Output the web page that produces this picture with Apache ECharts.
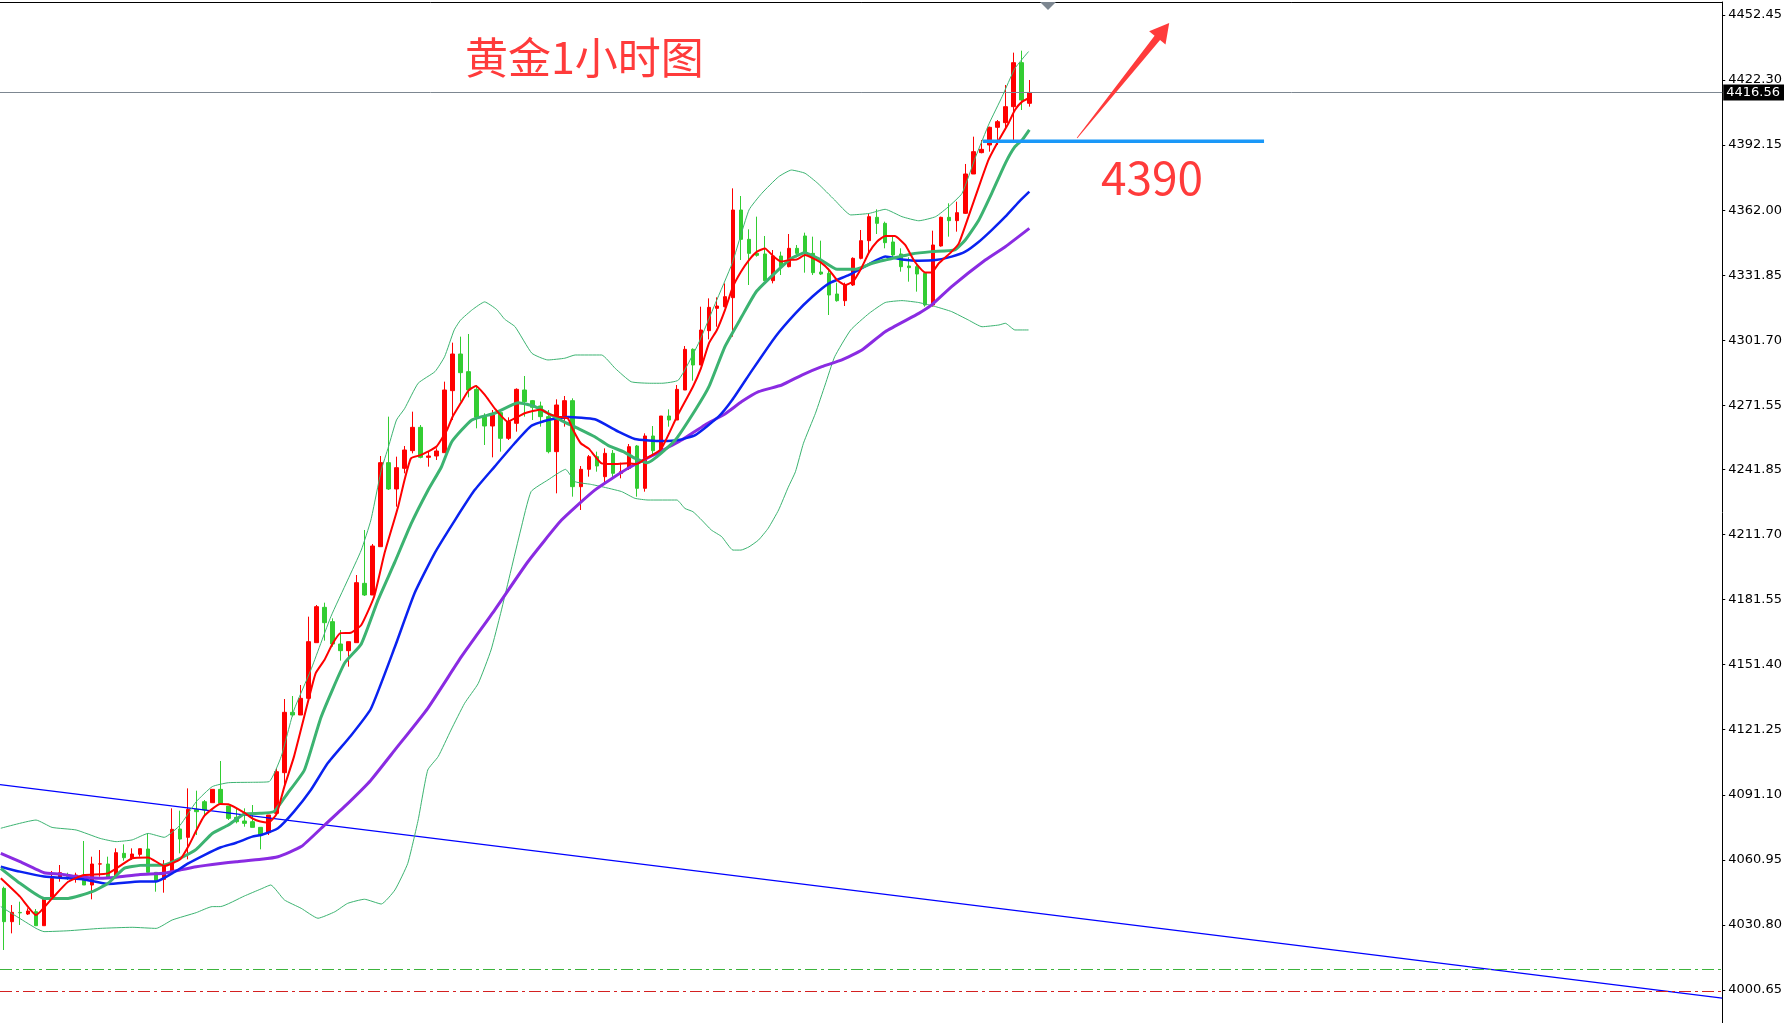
<!DOCTYPE html>
<html><head><meta charset="utf-8">
<script src="https://cdn.jsdelivr.net/npm/echarts@6/dist/echarts.min.js"></script>
<style>html,body{margin:0;padding:0;background:#fff}#c{width:1785px;height:1023px}</style>
</head><body><div id="c"></div>
<script>
// ---------- data ----------
const slotCount = 215; // candle slots visible across the chart (incl. empty right-hand space)
const tickValues = [4000.65,4030.80,4060.95,4091.10,4121.25,4151.40,4181.55,4211.70,4241.85,4271.55,4301.70,4331.85,4362.00,4392.15,4422.30,4452.45];

const opens = [4047.75,4032.31,4036.6,4035.86,4036.94,4030.45,4043.12,4052.85,4053.93,4052.85,
4051.92,4049.30,4059.0,4059.03,4052.85,4063.97,4061.81,4063.51,4065.98,4055.17,
4051.92,4055.48,4075.25,4071.39,4084.36,4087.91,4087.45,4093.63,4085.91,4080.65,
4078.96,4078.65,4076.02,4073.55,4082.51,4101.36,4129.32,4128.08,4135.80,4161.60,
4177.97,4171.33,4160.98,4157.89,4161.60,4189.09,4183.69,4206.08,4245.01,4232.81,
4242.38,4250.57,4261.38,4247.48,4248.10,4249.64,4278.37,4295.36,4287.18,4278.99,
4266.33,4262.00,4268.18,4256.29,4263.24,4278.68,4273.74,4271.27,4266.33,4250.11,
4265.55,4273.74,4233.89,4241.92,4247.79,4238.52,4249.33,4240.07,4242.38,4252.73,
4233.12,4257.36,4250.56,4266.63,4264.77,4278.67,4297.52,4290.26,4306.17,4316.52,
4317.29,4321.46,4362.08,4348.49,4342.00,4341.70,4329.34,4340.77,4335.83,4344.32,
4350.04,4342.00,4333.35,4332.74,4323.16,4320.07,4327.33,4339.69,4347.87,4358.69,
4355.91,4347.26,4341.70,4336.14,4335.83,4332.74,4318.07,4345.41,4358.69,4357.15,
4360.54,4378.77,4388.66,4392.21,4400.40,4402.56,4409.97,4430.36,4411.52];
const closes = [4032.31,4036.63,4036.4,4037.25,4030.45,4043.12,4052.39,4055.01,4053.16,4053.93,
4049.30,4059.03,4059.1,4052.85,4064.28,4061.96,4063.66,4066.13,4055.17,4051.31,
4058.57,4075.09,4070.61,4084.36,4083.28,4084.05,4093.63,4087.14,4080.19,4078.65,
4077.87,4076.02,4072.47,4081.74,4101.82,4129.32,4128.08,4135.80,4162.06,4178.28,
4170.87,4160.98,4157.89,4162.06,4189.40,4183.69,4206.39,4245.01,4232.81,4242.69,
4250.88,4261.38,4247.48,4248.10,4250.42,4278.68,4295.36,4286.71,4278.68,4266.02,
4262.00,4267.10,4256.29,4264.01,4278.99,4273.28,4270.65,4266.33,4250.11,4271.73,
4273.74,4233.89,4241.92,4247.79,4243.46,4249.33,4240.07,4240.84,4252.42,4233.12,
4257.37,4250.56,4266.63,4264.77,4278.98,4297.52,4290.26,4306.48,4316.98,4317.60,
4321.92,4362.08,4348.49,4342.00,4341.08,4329.34,4340.77,4335.83,4344.32,4342.00,
4342.00,4333.05,4332.43,4322.70,4320.07,4327.33,4339.69,4347.87,4359.00,4355.91,
4346.95,4341.24,4335.83,4335.37,4332.43,4318.07,4345.87,4358.69,4357.15,4360.85,
4378.77,4389.12,4390.20,4400.40,4403.02,4409.97,4430.36,4413.06,4416.56];
const lows = [4019.18,4026.90,4030.76,4035.40,4030.45,4030.45,4043.12,4050.84,4051.61,4050.38,
4049.30,4042.66,4053.16,4052.85,4052.85,4060.57,4060.88,4062.43,4055.17,4046.21,
4045.75,4055.48,4063.97,4061.19,4072.47,4081.74,4087.45,4087.14,4079.42,4077.87,
4076.33,4076.02,4065.83,4072.47,4081.74,4095.64,4127.31,4128.08,4135.80,4161.60,
4162.53,4159.74,4153.26,4150.48,4161.60,4183.22,4183.69,4206.08,4232.34,4224.62,
4240.07,4249.33,4247.02,4243.16,4246.24,4249.64,4264.78,4273.28,4275.28,4260.92,
4253.20,4247.48,4250.11,4255.51,4259.37,4266.33,4264.78,4261.69,4249.33,4230.80,
4261.69,4229.25,4223.08,4238.52,4240.84,4234.66,4237.75,4237.75,4241.61,4229.25,
4231.57,4248.09,4250.10,4261.68,4264.77,4278.67,4283.00,4290.26,4302.15,4308.02,
4316.98,4303.39,4338.91,4327.33,4340.46,4329.34,4328.10,4331.96,4335.52,4340.15,
4333.05,4331.96,4331.96,4313.43,4319.61,4317.60,4326.87,4339.22,4342.31,4350.96,
4344.33,4339.69,4333.51,4328.88,4324.25,4317.30,4317.30,4345.10,4349.73,4352.05,
4360.24,4378.77,4388.35,4389.12,4392.21,4399.16,4394.53,4408.43,4409.97];
const highs = [4048.53,4040.03,4041.57,4038.49,4038.18,4043.12,4055.79,4058.57,4055.01,4055.01,
4069.69,4062.43,4065.52,4062.43,4066.29,4068.14,4066.29,4066.13,4073.24,4055.17,
4060.88,4084.82,4083.74,4094.09,4093.01,4088.69,4093.63,4106.76,4085.91,4084.82,
4084.82,4086.37,4076.02,4081.74,4103.36,4135.49,4136.88,4141.98,4173.65,4179.05,
4180.13,4172.87,4167.47,4162.06,4192.95,4213.81,4207.32,4248.10,4266.32,4247.79,
4252.73,4268.64,4262.46,4250.11,4251.65,4282.54,4300.62,4303.40,4304.63,4281.00,
4267.87,4269.41,4269.72,4266.02,4279.45,4285.17,4274.05,4273.28,4269.41,4274.36,
4275.90,4274.82,4243.46,4248.56,4250.11,4251.65,4250.88,4245.01,4253.66,4253.20,
4258.60,4261.99,4266.63,4269.71,4280.99,4299.06,4297.98,4317.29,4321.15,4321.62,
4328.10,4372.12,4368.57,4353.13,4359.00,4350.04,4343.55,4342.78,4350.96,4345.87,
4351.58,4349.73,4347.87,4335.05,4328.41,4328.41,4340.15,4352.82,4360.54,4362.39,
4356.68,4349.73,4344.33,4340.16,4337.38,4332.74,4352.51,4359.00,4365.18,4365.95,
4383.41,4396.07,4394.53,4400.71,4403.79,4420.01,4435.00,4435.92,4422.33];

// indicator lines, read as [candle index, price]
const ma5 = [[-0.4,4052.4],[2,4043.9],[4,4035.4],[6,4043.1],[8,4050.8],[10,4053.9],[13,4054.7],[16,4061.7],[18,4062.1],[20,4058.1],[22,4061.2],[23,4067.1],[25,4081.3],[27,4086.8],[28,4086.7],[30,4082.8],[31,4080.2],[32,4078.7],[33,4078.2],[34,4082.0],[35,4094.9],[36.2,4108.8],[37.9,4133.5],[38.9,4147.4],[40,4153.6],[41,4161.0],[42,4166.0],[43.3,4166.2],[44.6,4169.8],[46.2,4182.9],[47.5,4203.0],[49.2,4224.6],[50,4237.0],[50.8,4247.0],[52,4248.5],[52.9,4250.1],[54,4252.5],[55.3,4260.1],[56,4266.3],[57,4272.5],[58,4278.5],[58.9,4280.5],[60,4276.5],[61.25,4270.2],[62.9,4264.0],[64,4266.0],[65,4267.9],[67,4269.7],[68,4267.6],[69.2,4266.3],[70.4,4265.5],[71,4260.5],[72,4254.0],[73,4251.5],[74.6,4244.7],[76,4244.4],[77.9,4244.7],[79,4244.4],[80,4246.6],[82,4251.2],[84,4266.3],[86,4280.2],[87,4288.7],[88,4300.3],[89,4306.5],[90,4315.7],[91,4326.6],[92,4333.5],[93,4338.9],[94,4342.8],[95,4344.3],[96,4340.8],[97,4338.2],[98,4338.9],[99,4339.2],[100,4341.2],[101,4339.7],[102,4337.7],[103,4334.3],[104,4329.6],[105,4327.3],[106,4329.0],[107,4335.0],[108,4342.5],[109,4347.5],[110,4350.0],[111.2,4350.0],[112.5,4345.9],[113.7,4338.1],[115,4333.1],[115.8,4333.1],[116.7,4337.4],[118.3,4342.8],[119.2,4346.6],[120.4,4359.0],[121.7,4372.9],[122.9,4385.3],[124.2,4394.5],[125.4,4402.3],[126.2,4408.4],[127.1,4412.3],[128,4414.0]];
const ma10 = [[-0.4,4057.0],[2,4050.1],[5,4043.1],[8,4043.1],[11,4046.2],[13,4050.1],[15,4057.0],[17,4058.4],[20,4058.6],[22,4061.7],[24,4065.8],[26,4073.2],[28,4077.1],[30,4082.2],[32,4082.5],[33.7,4083.3],[35.4,4091.8],[37.5,4102.6],[39.6,4127.3],[42.5,4152.0],[44.6,4161.0],[46.7,4181.4],[48.8,4199.0],[50.8,4216.5],[52.9,4232.0],[54.6,4243.0],[55.9,4254.7],[58.4,4264.8],[61.25,4267.9],[64.2,4272.8],[66.3,4271.0],[69.6,4264.5],[71.7,4260.8],[73.75,4257.0],[75.4,4253.0],[77.3,4250.1],[78.8,4247.0],[80.3,4245.0],[83.8,4255.5],[86.3,4269.4],[88,4280.2],[90,4298.8],[92.1,4312.7],[93.9,4324.2],[96.2,4332.7],[98.3,4339.7],[100,4342.3],[102,4338.9],[104,4334.6],[106.3,4334.6],[108.4,4337.4],[110,4338.9],[113.3,4341.7],[115.8,4342.8],[118.7,4343.6],[120,4348.2],[121.7,4357.5],[123.3,4369.8],[125,4383.7],[126.2,4391.4],[127.1,4394.5],[128,4399.2]];
const ma20 = [[-0.4,4057.8],[2,4055.5],[5,4053.2],[8,4052.4],[10,4051.9],[13,4049.8],[17,4050.9],[19,4050.9],[21,4054.7],[23,4059.3],[25,4063.2],[27,4066.7],[29,4068.9],[31,4071.7],[32.1,4072.5],[34.2,4075.6],[36.2,4083.3],[38.3,4093.3],[40.4,4105.7],[43.3,4118.5],[45.8,4131.0],[48.8,4159.7],[51.25,4184.5],[53.75,4203.0],[56.3,4218.4],[58.75,4232.3],[61.25,4243.2],[63.75,4254.0],[65.8,4262.0],[67.9,4264.8],[70.4,4266.2],[73.75,4265.1],[76.7,4259.4],[78.75,4256.0],[80.5,4255.3],[82.2,4255.0],[84.2,4255.5],[86.3,4257.8],[89.2,4266.3],[90.9,4274.0],[93.4,4287.9],[96.3,4303.4],[98.8,4314.2],[100.9,4321.9],[103,4328.1],[105.5,4332.0],[108,4337.0],[110,4340.5],[112.1,4339.2],[114.2,4338.6],[116.3,4338.9],[118.3,4340.5],[120,4342.8],[121.7,4347.4],[123.3,4352.8],[125,4359.0],[126.7,4365.9],[128,4370.6]];
const ma60 = [[-0.4,4064.0],[2,4060.1],[5,4055.0],[7,4054.4],[9,4053.2],[12,4052.4],[14,4052.9],[17,4054.2],[20,4054.7],[22,4056.3],[24,4057.8],[27,4059.3],[29,4060.1],[32.1,4061.2],[34.2,4062.4],[37.1,4067.1],[39.6,4075.6],[42.5,4085.6],[45.8,4097.9],[48.8,4111.9],[52.9,4131.2],[57.1,4155.1],[61.25,4176.7],[65.4,4199.1],[69.6,4218.4],[73.75,4232.3],[77.9,4242.4],[82.1,4250.5],[84.6,4255.5],[87.5,4262.5],[90,4267.6],[92.1,4273.3],[94.2,4277.9],[97.1,4281.0],[99.6,4285.6],[102.1,4289.5],[104.6,4292.6],[107.1,4297.2],[110,4305.7],[114.2,4314.2],[115.8,4318.1],[118.3,4326.6],[122.5,4338.9],[125,4345.1],[128,4353.6]];
const bbUpper = [[-0.4,4075.6],[4,4079.4],[6,4076.0],[9,4074.8],[12,4070.9],[14,4069.4],[16,4070.2],[18,4073.2],[20,4071.4],[22,4077.1],[24,4087.9],[26,4094.9],[28,4096.7],[31,4096.9],[33.1,4097.2],[34.6,4108.8],[36.2,4130.4],[38.3,4148.9],[40.8,4173.6],[42.9,4190.6],[44.6,4204.5],[45.8,4218.4],[47.1,4241.6],[48,4252.4],[49,4264.8],[50,4270.0],[51.7,4281.8],[53.8,4287.2],[55,4294.1],[56.2,4306.5],[57,4311.1],[58.5,4316.0],[60,4319.5],[61.5,4316.0],[62.5,4311.5],[63.8,4308.0],[65.9,4295.7],[67.9,4292.6],[70,4293.4],[71.3,4294.9],[74.6,4294.9],[76.3,4288.7],[78.3,4282.5],[80.8,4281.8],[82.1,4281.8],[84.2,4283.3],[86.7,4300.3],[88.8,4318.8],[90.9,4337.4],[93,4362.1],[94.6,4369.8],[96.7,4377.5],[98.3,4380.6],[100,4379.1],[101.6,4374.4],[103.7,4366.7],[105.7,4359.8],[108,4360.5],[110,4362.4],[112.1,4359.0],[114.2,4357.1],[116.3,4359.0],[118,4363.9],[119.6,4369.8],[121.3,4386.8],[123,4402.3],[124.6,4414.6],[126.2,4427.7],[127.9,4435.5]];
const bbLower = [[-0.4,4039.3],[4,4029.2],[5,4027.7],[8,4028.1],[12,4029.2],[16,4029.7],[19,4029.2],[21,4033.1],[24,4036.5],[26,4039.3],[27,4039.3],[30,4044.2],[32.1,4047.5],[33.3,4049.3],[35,4042.4],[37.1,4038.5],[39.2,4033.9],[41.3,4036.9],[42.9,4040.8],[45,4042.7],[47.1,4040.5],[48.8,4047.0],[50.4,4059.3],[51.7,4079.4],[52.9,4102.6],[54.2,4108.8],[55.8,4121.1],[57.5,4133.5],[59.2,4142.7],[60.8,4158.2],[62,4175.2],[63.3,4195.3],[64.5,4213.8],[65.8,4231.6],[67.9,4237.0],[70.1,4241.9],[71.3,4236.2],[73.2,4235.0],[74.6,4233.9],[77.1,4231.6],[78.75,4228.5],[80.4,4227.7],[84,4227.7],[85,4223.8],[86,4222.3],[87.1,4218.4],[88.3,4213.8],[89.6,4210.7],[91,4204.5],[92,4204.5],[93,4206.0],[94.2,4209.2],[95.4,4214.6],[96.7,4223.1],[97.9,4233.6],[98.8,4240.8],[99.8,4254.0],[101.3,4267.9],[102.5,4281.0],[103.7,4294.1],[105.7,4306.5],[108,4314.2],[110,4319.2],[112.1,4320.1],[114.2,4319.2],[116.3,4317.3],[118.3,4315.0],[120.4,4311.1],[122.1,4308.0],[124.2,4308.8],[125,4309.6],[126.2,4306.5],[127.9,4306.5]];

const trendLine = [[-0.5,4095.8],[214.5,3996.9]];
const lastPrice = 4416.56;
const greenLevel = 4010.4;
const redLevel = 4000.2;
const supportLine = [[122.2,4394.0],[157.3,4394.0]];
const arrowPts = [[133.96,4395.45,145.46,4448.74]];
const titleText = '黄金1小时图';
const levelText = '4390';

// ---------- chart ----------
const RED = '#FF0000', LIME = '#32CD32', ANNO = '#FF3B3B';
const cats = Array.from({length: slotCount}, (_, i) => String(i));
const candles = opens.map((o, i) => [o, closes[i], lows[i], highs[i]]);

function lineSeries(name, data, color, width, extra) {
  return Object.assign({
    name, type: 'line', xAxisIndex: 1, yAxisIndex: 0, data,
    showSymbol: false, symbol: 'none', smooth: 0.15,
    lineStyle: {color, width}, z: 5, silent: true, animation: false
  }, extra || {});
}

const chart = echarts.init(document.getElementById('c'), null, {renderer: 'canvas'});
chart.setOption({
  backgroundColor: '#ffffff',
  animation: false,
  title: {
    text: titleText, left: 460, top: 31,
    textStyle: {color: ANNO, fontSize: 43, fontWeight: 'normal', fontFamily: 'Noto Sans CJK SC'}
  },
  grid: {left: 0, right: 62, top: 2, bottom: 0, containLabel: false},
  xAxis: [
    {type: 'category', data: cats, position: 'top', boundaryGap: true,
     axisLine: {show: true, onZero: false, lineStyle: {color: '#000', width: 1}},
     axisTick: {show: false}, axisLabel: {show: false}, splitLine: {show: false}},
    {type: 'value', min: -0.5, max: slotCount - 0.5, show: false,
     axisLine: {show: false, onZero: false}, splitLine: {show: false}}
  ],
  yAxis: [{
    type: 'value', position: 'right', min: 3985.36, max: 4458.47, scale: true,
    axisLine: {show: true, onZero: false, lineStyle: {color: '#000', width: 1}},
    axisTick: {show: true, inside: false, length: 3, lineStyle: {color: '#000'}, customValues: tickValues},
    axisLabel: {show: true, customValues: tickValues, margin: 6, color: '#000', fontSize: 13,
      fontFamily: 'DejaVu Sans', formatter: v => Number(v).toFixed(2)},
    splitLine: {show: false}
  }],
  graphic: [
    {type: 'text', left: 1101, top: 155, z: 100,
     style: {text: levelText, fill: ANNO, fontSize: 46, fontFamily: 'Noto Sans CJK SC'}},
    {type: 'polygon', z: 100, shape: {points: [[1040, 2], [1056, 2], [1048, 10]]}, style: {fill: '#7d8791'}}
  ],
  series: [
    {
      name: 'XAUUSD H1', type: 'candlestick', xAxisIndex: 0, yAxisIndex: 0, data: candles,
      barWidth: 4, z: 3, animation: false, silent: true,
      itemStyle: {color: RED, color0: LIME, borderColor: RED, borderColor0: LIME, borderWidth: 1},
      markLine: {
        silent: true, symbol: ['none', 'none'], animation: false,
        data: [
          {yAxis: lastPrice, lineStyle: {color: '#7d8791', width: 1, type: 'solid'},
           label: {show: true, position: 'end', distance: 1, formatter: () => lastPrice.toFixed(2),
             color: '#fff', backgroundColor: '#000', padding: [2, 4, 1, 3], fontSize: 13, fontFamily: 'DejaVu Sans'}},
          {yAxis: greenLevel, lineStyle: {color: '#3CB43C', width: 1, type: [12, 4, 3, 4]}, label: {show: false}},
          {yAxis: redLevel, lineStyle: {color: '#D42020', width: 1, type: [12, 4, 3, 4]}, label: {show: false}}
        ]
      }
    },
    lineSeries('BB Upper', bbUpper, '#3CB371', 1),
    lineSeries('BB Lower', bbLower, '#3CB371', 1),
    lineSeries('MA60', ma60, '#8A2BE2', 3),
    lineSeries('MA20', ma20, '#0A22F0', 2.5),
    lineSeries('MA10', ma10, '#3CB371', 3),
    lineSeries('MA5', ma5, RED, 2),
    lineSeries('Trend', trendLine, '#0000FF', 1.2, {smooth: false, z: 4}),
    lineSeries('Support', supportLine, '#1A98F8', 3.5, {smooth: false, z: 6}),
    {
      name: 'Arrow', type: 'custom', xAxisIndex: 1, yAxisIndex: 0, data: arrowPts, z: 7, silent: true,
      encode: {x: [0, 2], y: [1, 3]},
      renderItem: function (params, api) {
        const p0 = api.coord([api.value(0), api.value(1)]);
        const p1 = api.coord([api.value(2), api.value(3)]);
        const dx = p1[0] - p0[0], dy = p1[1] - p0[1];
        const len = Math.hypot(dx, dy);
        const ux = dx / len, uy = dy / len, nx = -uy, ny = ux;
        const L = 19, hw = 10.5, sw = 3.5, s0 = 0.4;
        const bx = p1[0] - ux * L, by = p1[1] - uy * L;
        const pts = [
          [p0[0] + nx * s0, p0[1] + ny * s0], [bx + nx * sw, by + ny * sw], [bx + nx * hw, by + ny * hw],
          p1, [bx - nx * hw, by - ny * hw], [bx - nx * sw, by - ny * sw], [p0[0] - nx * s0, p0[1] - ny * s0]
        ];
        return {type: 'polygon', shape: {points: pts}, style: {fill: ANNO}};
      }
    }
  ]
});
</script>
</body></html>
